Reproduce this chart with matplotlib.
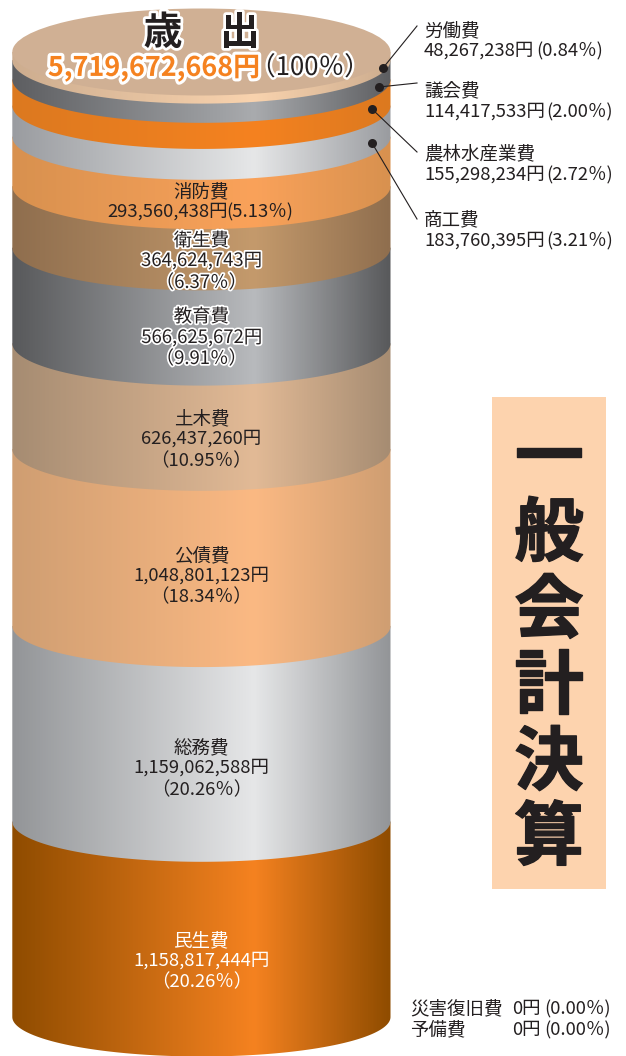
import numpy as np
import matplotlib
matplotlib.use("Agg")
import matplotlib.pyplot as plt
import matplotlib.patheffects as pe
from matplotlib.colors import LinearSegmentedColormap
from matplotlib.patches import PathPatch, Rectangle, Ellipse
from matplotlib.path import Path

plt.rcParams['font.family'] = ['Noto Sans CJK JP', 'DejaVu Sans']

# Expenditure by purpose, listed from the top of the cylinder downward
names = ["労働費", "議会費", "農林水産業費", "商工費", "消防費", "衛生費",
         "教育費", "土木費", "公債費", "総務費", "民生費"]
amounts = [48267238, 114417533, 155298234, 183760395, 293560438, 364624743,
           566625672, 626437260, 1048801123, 1159062588, 1158817444]
shares = ["0.84", "2.00", "2.72", "3.21", "5.13", "6.37",
          "9.91", "10.95", "18.34", "20.26", "20.26"]
edge_colors = ["#cdad8f", "#5d5e61", "#dc791f", "#9a9ca0", "#d8914f", "#8f6e4e",
               "#58595b", "#a68c72", "#cf9e72", "#939598", "#8f4c00"]
peak_colors = ["#f9d3ae", "#a9abae", "#f58220", "#e6e7e8", "#faa25a", "#c49a6c",
               "#b8babd", "#e2ba96", "#fbb983", "#e6e7e8", "#f58220"]
total = 5719672668
zero_names = ["災害復旧費", "予備費"]
zero_amounts = [0, 0]
zero_shares = ["0.00", "0.00"]
panel_title = "一般会計決算"

W, H = 626, 1056
LEFT, RIGHT = 12.3, 390.5
CX, RX = (LEFT + RIGHT) / 2, (RIGHT - LEFT) / 2
BASE_PX, TOP_PX = 1017, 52
PEAK_X = 0.64
DARK = "#231f20"

fig = plt.figure(figsize=(W / 100, H / 100), dpi=100, facecolor="white")

# Cylinder axes: x in pixels, y in yen stacked upward from the base
px_per_yen = (BASE_PX - TOP_PX) / total
cyl = fig.add_axes([0, 0, 1, 1])
ylim = (-(H - BASE_PX) / px_per_yen, BASE_PX / px_per_yen)
cyl.axis("off")

# Text and callout axes in plain pixel coordinates
ov = fig.add_axes([0, 0, 1, 1])
ov.set_xlim(0, W)
ov.set_ylim(H, 0)
ov.axis("off")
ov.patch.set_alpha(0)


def minor_radius(level):
    # The ellipse flattens slightly toward the foot of the cylinder
    return (39.5 + 4.0 * level / total) / px_per_yen


def band_path(y_top, y_bottom):
    t = np.linspace(np.pi, 2 * np.pi, 160)
    xs = CX + RX * np.cos(t)
    ys = y_bottom + minor_radius(y_bottom) * np.sin(t)
    verts = np.vstack([[LEFT, y_top], np.column_stack([xs, ys]), [RIGHT, y_top], [LEFT, y_top]])
    return Path(verts, closed=True)


tops = total - np.concatenate([[0], np.cumsum(amounts[:-1])])
bottoms = tops - np.array(amounts)

# Paint from the base up so each band's lower arc overlaps the one beneath
for i in range(len(amounts) - 1, -1, -1):
    cmap = LinearSegmentedColormap.from_list(
        "band", [(0, edge_colors[i]), (PEAK_X, peak_colors[i]), (1, edge_colors[i])])
    grad = np.linspace(0, 1, 400)[None, :]
    img = cyl.imshow(grad, cmap=cmap, aspect="auto", vmin=0, vmax=1, zorder=len(amounts) - i + 2,
                     extent=(LEFT, RIGHT, ylim[0], ylim[1]), interpolation="bilinear")
    patch = PathPatch(band_path(tops[i], bottoms[i]), transform=cyl.transData,
                      fc="none", ec="none")
    cyl.add_patch(patch)
    img.set_clip_path(patch)

cyl.add_patch(Ellipse((CX, total), 2 * RX, 2 * minor_radius(total), fc="#d0b094",
                      ec="none", zorder=40))
cyl.set_xlim(0, W)
cyl.set_ylim(*ylim)


def halo(width):
    return [pe.withStroke(linewidth=width, foreground="white")]


def amount_text(value):
    return f"{value:,}円"


def share_text(value):
    return f"（{value}％）"


def inline_share_text(value):
    # Narrow brackets keep the share clear of the amount on the same line
    return f"({value}％)"


FS = 13.3

# Labels printed on the cylinder: index, line centres, colour, halo
inside = {
    5: ([241, 261, 283], DARK, True),
    6: ([317, 338, 359], DARK, True),
    7: ([419, 439, 461], DARK, False),
    8: ([556, 576, 597], DARK, False),
    9: ([748, 768, 790], DARK, False),
    10: ([941, 961, 982], "white", False),
}
for idx, (ys, color, outlined) in inside.items():
    lines = [names[idx], amount_text(amounts[idx]), share_text(shares[idx])]
    for y, line in zip(ys, lines):
        t = ov.text(CX, y, line, ha="center", va="center", fontsize=FS, color=color, zorder=60)
        if outlined:
            t.set_path_effects(halo(2.5))

# The fire service band is thin enough to need its figures on one line
ov.text(CX, 192, names[4], ha="center", va="center", fontsize=FS, color=DARK, zorder=60)
ov.text(107, 212, amount_text(amounts[4]), ha="left", va="center", fontsize=FS, color=DARK, zorder=60)
ov.text(293, 212, inline_share_text(shares[4]), ha="right", va="center", fontsize=FS,
        color=DARK, zorder=60)

# Callouts for the thin bands at the top
callouts = [
    (0, (383, 68), (417, 26), 31, 51, 603),
    (1, (379, 87), (417, 83), 91, 112, 613),
    (2, (372, 109), (417, 152), 154, 175, 613),
    (3, (372, 143), (417, 219), 220, 241, 613),
]
for idx, dot, end, y1, y2, x_end in callouts:
    ov.plot([dot[0], end[0]], [dot[1], end[1]], color=DARK, lw=0.8, zorder=50)
    ov.plot(*dot, "o", color=DARK, ms=6.5, mew=0, zorder=51)
    ov.text(424, y1, names[idx], ha="left", va="center", fontsize=FS, color=DARK)
    ov.text(424, y2, amount_text(amounts[idx]), ha="left", va="center", fontsize=FS, color=DARK)
    ov.text(x_end, y2, inline_share_text(shares[idx]), ha="right", va="center",
            fontsize=FS, color=DARK)

# Heading on the top face
for x, ch in ((163, "歳"), (240, "出")):
    ov.text(x, 33, ch, ha="center", va="center", fontsize=28, fontweight="bold",
            color=DARK, path_effects=halo(4), zorder=60)
ov.text(260, 68, amount_text(total), ha="right", va="center", fontsize=19.4,
        fontweight="bold", color="#f58220", path_effects=halo(4.5), zorder=60)
ov.text(310, 68, share_text("100"), ha="center", va="center", fontsize=18.5,
        color=DARK, path_effects=halo(3.5), zorder=60)

# Items with no expenditure
for y, name, val, share in zip((1009, 1030), zero_names, zero_amounts, zero_shares):
    ov.text(410, y, name, ha="left", va="center", fontsize=FS, color=DARK)
    ov.text(512, y, amount_text(val), ha="left", va="center", fontsize=FS, color=DARK)
    ov.text(611, y, inline_share_text(share), ha="right", va="center", fontsize=FS, color=DARK)

# Vertical title panel
ov.add_patch(Rectangle((492, 397), 114, 492, fc="#fdd3ae", ec="none"))
for y, ch in zip((459, 535, 612, 687, 764, 839), panel_title):
    ov.text(549, y, ch, ha="center", va="center", fontsize=50, fontweight="bold", color=DARK,
            path_effects=[pe.withStroke(linewidth=1, foreground=DARK)])

fig.savefig("out.png", dpi=100)
